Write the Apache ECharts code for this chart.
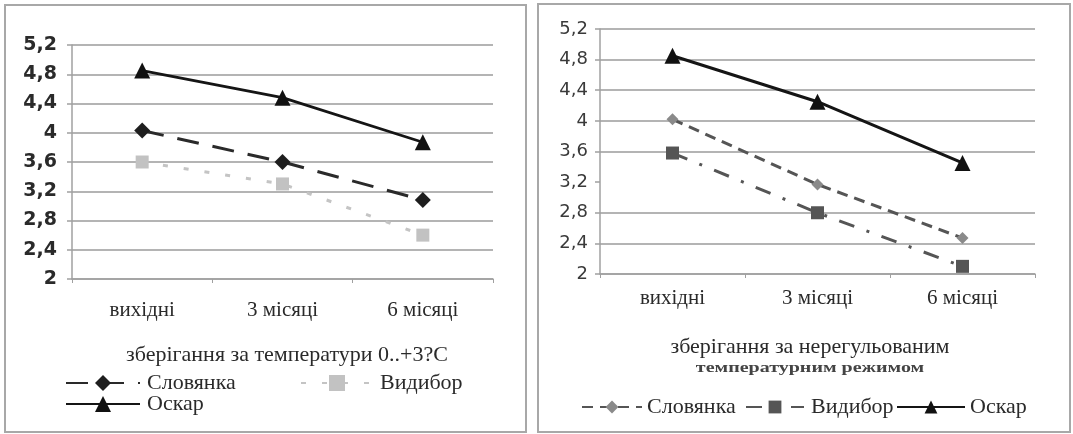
<!DOCTYPE html>
<html>
<head>
<meta charset="utf-8">
<script src="https://cdn.jsdelivr.net/npm/echarts@6/dist/echarts.min.js"></script>
<style>
  html, body { margin: 0; padding: 0; background: #fff; width: 1073px; height: 434px; overflow: hidden; }
  .frame { position: absolute; border: 2px solid #a8a8a8; box-sizing: border-box; }
  .chart { position: absolute; left: 0; top: 0; width: 1073px; height: 434px; }
</style>
</head>
<body>
<div class="frame" style="left:4px;top:4px;width:523px;height:429px;"></div>
<div class="frame" style="left:537px;top:3px;width:534px;height:430px;"></div>
<div id="c1" class="chart"></div>
<div id="c2" class="chart"></div>
<script>
// ---- data ----
const categories = ['вихідні', '3 місяці', '6 місяці'];
const seriesNames = ['Словянка', 'Видибор', 'Оскар'];
// left chart: storage at 0..+3 C
const leftSlovianka = [4.03, 3.6, 3.08];
const leftVydybor = [3.6, 3.3, 2.6];
const leftOskar = [4.85, 4.48, 3.87];
// right chart: unregulated temperature regime
const rightSlovianka = [4.02, 3.17, 2.47];
const rightVydybor = [3.58, 2.8, 2.1];
const rightOskar = [4.85, 4.25, 3.45];
const yMin = 2, yMax = 5.2, yStep = 0.4;
const leftTitle = 'зберігання за температури 0..+3?C';
const rightTitle1 = 'зберігання за нерегульованим';
const rightTitle2 = 'температурним режимом';

const serif = '"Liberation Serif", "DejaVu Serif", serif';
const sans = '"DejaVu Sans", sans-serif';
const fmt = v => (Math.round(v * 10) / 10).toString().replace('.', ',');

function yAxis(fontSize, weight, color, gridColors, margin) {
  return {
    type: 'value', min: yMin, max: yMax, interval: yStep,
    axisLine: { show: true, lineStyle: { color: '#a0a0a0', width: 1.5 } },
    axisTick: { show: true, length: 5, lineStyle: { color: '#a0a0a0', width: 1.5 } },
    axisLabel: { formatter: fmt, fontFamily: sans, fontSize: fontSize, fontWeight: weight, color: color, margin: margin },
    splitLine: { show: true, lineStyle: { color: gridColors, width: 1.8 } }
  };
}
function xAxis(margin) {
  return {
    type: 'category', data: categories, boundaryGap: true,
    axisLine: { show: true, lineStyle: { color: '#a0a0a0', width: 1.5 } },
    axisTick: { show: true, length: 4, lineStyle: { color: '#a0a0a0' } },
    axisLabel: { fontFamily: serif, fontSize: 21, color: '#2a2a2a', margin: margin }
  };
}
function legend(name, left, top, itemWidth, itemHeight, fontSize, pad) {
  return {
    data: [name], left: left, top: top, itemWidth: itemWidth, itemHeight: itemHeight, padding: 0,
    textStyle: { fontFamily: serif, fontSize: fontSize, color: '#2a2a2a', padding: [0, 0, 0, pad] },
    selectedMode: false
  };
}

// ---- left chart ----
const c1 = echarts.init(document.getElementById('c1'), null, { renderer: 'canvas' });
c1.setOption({
  animation: false,
  backgroundColor: 'transparent',
  grid: { left: 72, right: 580, top: 45, bottom: 155 },
  xAxis: xAxis(21),
  yAxis: yAxis(19, 'bold', '#2a2a2a', '#b4b4b4', 15),
  legend: [
    legend(seriesNames[0], 65, 372, 74, 20, 22, 2),
    legend(seriesNames[1], 300, 372, 72, 20, 22, 2),
    legend(seriesNames[2], 65, 393, 74, 20, 22, 2)
  ],
  graphic: [
    { type: 'text', x: 287, y: 355, style: { text: leftTitle, font: '22px ' + serif, fill: '#2a2a2a', textAlign: 'center', textVerticalAlign: 'middle' } }
  ],
  series: [
    { name: seriesNames[0], type: 'line', data: leftSlovianka, symbol: 'diamond', symbolSize: 16,
      itemStyle: { color: '#1e1e1e' }, lineStyle: { color: '#2a2a2a', width: 3, type: [22, 14] } },
    { name: seriesNames[1], type: 'line', data: leftVydybor, symbol: 'rect', symbolSize: 13,
      itemStyle: { color: '#c2c2c2' }, lineStyle: { color: '#c4c4c4', width: 3, type: [5, 16] } },
    { name: seriesNames[2], type: 'line', data: leftOskar, symbol: 'triangle', symbolSize: 16,
      itemStyle: { color: '#111' }, lineStyle: { color: '#151515', width: 2.8 } }
  ]
});

// ---- right chart ----
const c2 = echarts.init(document.getElementById('c2'), null, { renderer: 'canvas' });
c2.setOption({
  animation: false,
  backgroundColor: 'transparent',
  grid: { left: 600, right: 38, top: 29, bottom: 160 },
  xAxis: xAxis(14),
  yAxis: yAxis(18, 'normal', '#3a3a3a', ['#b4b4b4', '#b4b4b4', '#b4b4b4', 'rgba(0,0,0,0)', '#b4b4b4', '#b4b4b4', '#b4b4b4', '#b4b4b4', '#b4b4b4'], 12),
  legend: [
    legend(seriesNames[0], 581, 396, 60, 16, 22, 0),
    legend(seriesNames[1], 745, 396, 58, 16, 22, 2),
    legend(seriesNames[2], 896, 396, 68, 16, 22, 0)
  ],
  graphic: [
    { type: 'text', x: 810, y: 347, style: { text: rightTitle1, font: '22px ' + serif, fill: '#2a2a2a', textAlign: 'center', textVerticalAlign: 'middle' } },
    { type: 'text', x: 810, y: 368, scaleY: 0.75, style: { text: rightTitle2, font: 'bold 20px ' + serif, fill: '#444', textAlign: 'center', textVerticalAlign: 'middle' } }
  ],
  series: [
    { name: seriesNames[0], type: 'line', data: rightSlovianka, symbol: 'diamond', symbolSize: 12,
      itemStyle: { color: '#8a8a8a' }, lineStyle: { color: '#555', width: 3, type: [11, 7] } },
    { name: seriesNames[1], type: 'line', data: rightVydybor, symbol: 'rect', symbolSize: 13,
      itemStyle: { color: '#555' }, lineStyle: { color: '#555', width: 3, type: [16, 13, 3, 13] } },
    { name: seriesNames[2], type: 'line', data: rightOskar, symbol: 'triangle', symbolSize: 16,
      itemStyle: { color: '#111' }, lineStyle: { color: '#151515', width: 3 } }
  ]
});
</script>
</body>
</html>
